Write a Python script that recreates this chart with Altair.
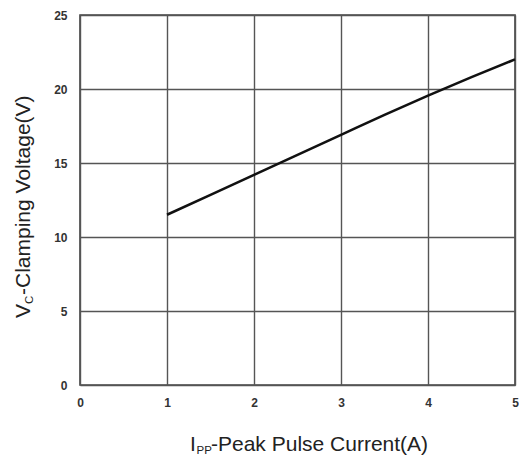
import altair as alt
import pandas as pd

# Data
current_a = [1.0, 1.5, 2.0, 2.5, 3.0, 3.5, 4.0, 4.5, 5.0]
clamp_v = [11.5, 12.85, 14.2, 15.55, 16.9, 18.25, 19.55, 20.8, 22.0]
x_ticks = [0, 1, 2, 3, 4, 5]
y_ticks = [0, 5, 10, 15, 20, 25]

df = pd.DataFrame({"I": current_a, "V": clamp_v})

FONT = "Liberation Sans"
W, H = 435, 370

line = alt.Chart(df).mark_line(color="#111111", strokeWidth=2.6, interpolate="monotone").encode(
    x=alt.X("I:Q", scale=alt.Scale(domain=[0, 5], nice=False),
            axis=alt.Axis(values=x_ticks, title=None, labelFlush=False, labelPadding=12)),
    y=alt.Y("V:Q", scale=alt.Scale(domain=[0, 25], nice=False),
            axis=alt.Axis(values=y_ticks, title=None, labelPadding=13)),
)

one = alt.Data(values=[{"k": 1}])

def txt(text, x, y, size, angle=0, baseline="alphabetic"):
    kw = dict(text=text, font=FONT, fontSize=size, color="#222222",
              align="left", baseline=baseline)
    if angle:
        kw["angle"] = angle
    return alt.Chart(one).mark_text(**kw).encode(x=alt.value(x), y=alt.value(y))

# X axis title: I_PP-Peak Pulse Current(A)
xt = [
    txt("I", 110, 436, 21),
    txt("PP", 116.5, 439, 11.5),
    txt("-Peak Pulse Current(A)", 131, 436, 21),
]
# Y axis title: V_C-Clamping Voltage(V)
yt = [
    txt("V", -50, 303, 21, angle=270),
    txt("C", -47, 289, 11.5, angle=270),
    txt("-Clamping Voltage(V)", -50, 280, 21, angle=270),
]

chart = alt.layer(line, *xt, *yt).properties(
    width=W, height=H,
    autosize=alt.AutoSizeParams(type="none"),
    padding={"left": 72, "top": 7, "right": 4, "bottom": 72},
).configure_view(
    stroke="#444444", strokeWidth=1.6
).configure_axis(
    labelFont=FONT, labelFontSize=12, labelFontWeight="bold", labelColor="#333333",
    ticks=False, domain=False, grid=True, gridColor="#555555", gridWidth=1.4,
    gridOpacity=1,
)

chart.save("out.html", embed_options={"renderer": "svg", "actions": False})
